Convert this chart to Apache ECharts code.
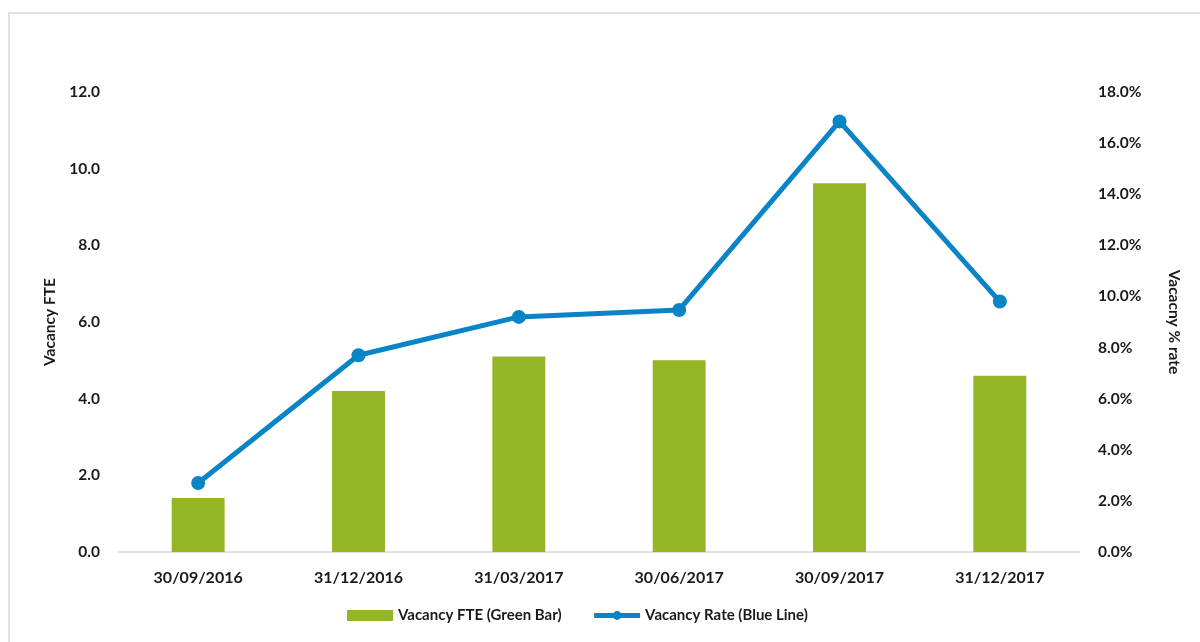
<!DOCTYPE html>
<html>
<head>
<meta charset="utf-8">
<script src="https://cdn.jsdelivr.net/npm/echarts@6/dist/echarts.min.js"></script>
<style>
html,body{margin:0;padding:0;background:#fff;}
#chart{width:1200px;height:642px;}
</style>
</head>
<body>
<div id="chart"></div>
<script>
// Quarter-end dates
const quarters = ['30/09/2016','31/12/2016','31/03/2017','30/06/2017','30/09/2017','31/12/2017'];
// Vacancy FTE per quarter
const vacancyFte = [1.41, 4.2, 5.1, 5.0, 9.62, 4.6];
// Vacancy rate (%) per quarter
const vacancyRate = [2.7, 7.7, 9.2, 9.47, 16.85, 9.8];

const FONT = 'Lato, "Open Sans", sans-serif';
const GREEN = '#93b526';
const BLUE = '#0984c6';
const TXT = '#1a1a1a';

const chart = echarts.init(document.getElementById('chart'));
chart.setOption({
  animation: false,
  backgroundColor: '#fff',
  graphic: [{
    type: 'rect',
    shape: {x: 9, y: 13, width: 1300, height: 700},
    style: {fill: 'none', stroke: '#d9d9d9', lineWidth: 1.5},
    silent: true
  }],
  grid: {left: 118, right: 120, top: 92, bottom: 90, containLabel: false},
  legend: {
    bottom: 14,
    left: 342,
    itemGap: 30,
    itemWidth: 46,
    itemHeight: 11,
    textStyle: {fontFamily: FONT, fontWeight: 'bold', fontSize: 15, color: TXT},
    data: [
      {name: 'Vacancy FTE (Green Bar)', icon: 'rect'},
      {name: 'Vacancy Rate (Blue Line)', lineStyle: {width: 5}, itemStyle: {color: BLUE}}
    ]
  },
  xAxis: {
    type: 'category',
    data: quarters,
    axisLine: {lineStyle: {color: '#d9d9d9', width: 1.5}},
    axisTick: {show: false},
    axisLabel: {fontFamily: FONT, fontWeight: 'bold', fontSize: 16, color: TXT, margin: 18}
  },
  yAxis: [{
    type: 'value',
    min: 0, max: 12, interval: 2,
    name: 'Vacancy FTE',
    nameLocation: 'middle',
    nameGap: 56,
    nameRotate: 90,
    nameTextStyle: {fontFamily: FONT, fontWeight: 'bold', fontSize: 15.5, color: TXT},
    splitLine: {show: false},
    axisLine: {show: false},
    axisTick: {show: false},
    axisLabel: {fontFamily: FONT, fontWeight: 'bold', fontSize: 15.5, color: TXT, margin: 18,
      formatter: v => v.toFixed(1)}
  }, {
    type: 'value',
    min: 0, max: 18, interval: 2,
    name: 'Vacacny % rate',
    nameLocation: 'middle',
    nameGap: 86,
    nameRotate: -90,
    nameTextStyle: {fontFamily: FONT, fontWeight: 'bold', fontSize: 15.5, color: TXT},
    splitLine: {show: false},
    axisLine: {show: false},
    axisTick: {show: false},
    axisLabel: {fontFamily: FONT, fontWeight: 'bold', fontSize: 15.5, color: TXT, margin: 18,
      formatter: v => v.toFixed(1) + '%'}
  }],
  series: [{
    name: 'Vacancy FTE (Green Bar)',
    type: 'bar',
    data: vacancyFte,
    barWidth: '33%',
    itemStyle: {color: GREEN}
  }, {
    name: 'Vacancy Rate (Blue Line)',
    type: 'line',
    yAxisIndex: 1,
    data: vacancyRate,
    symbol: 'circle',
    symbolSize: 14,
    lineStyle: {color: BLUE, width: 5},
    itemStyle: {color: BLUE}
  }]
});
</script>
</body>
</html>
